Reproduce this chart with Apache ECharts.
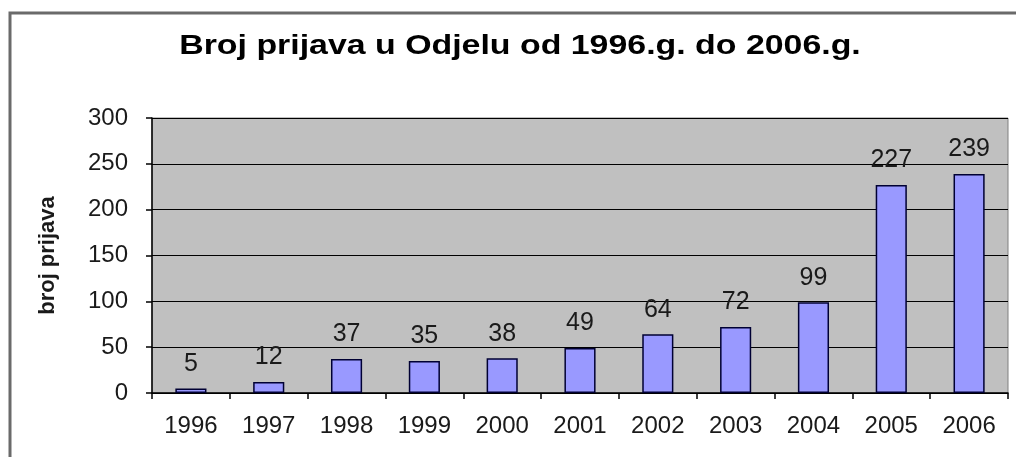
<!DOCTYPE html>
<html>
<head>
<meta charset="utf-8">
<script src="https://cdn.jsdelivr.net/npm/echarts@6/dist/echarts.min.js"></script>
<style>
html,body{margin:0;padding:0;background:#fff;}
#c{width:1016px;height:457px;}
</style>
</head>
<body>
<div id="c"></div>
<script>
const titleText = 'Broj prijava u Odjelu od 1996.g. do 2006.g.';
const yAxisName = 'broj prijava';
const categories = ['1996','1997','1998','1999','2000','2001','2002','2003','2004','2005','2006'];
const values = [5, 12, 37, 35, 38, 49, 64, 72, 99, 227, 239];
const yMin = 0, yMax = 300, yInterval = 50;

const FONT = '"Liberation Sans", Arial, sans-serif';
const chart = echarts.init(document.getElementById('c'), null, {renderer: 'canvas'});
chart.setOption({
  animation: false,
  backgroundColor: '#fff',
  graphic: [{
    type: 'rect',
    shape: {x: 10, y: 13, width: 1100, height: 600},
    style: {fill: null, stroke: '#6a6a6a', lineWidth: 3},
    silent: true, z: -1
  }, {
    type: 'text',
    x: 520, y: 46,
    scaleX: 1.21,
    style: {
      text: titleText,
      fontFamily: FONT, fontSize: 28, fontWeight: 'bold', fill: '#000',
      textAlign: 'center', textVerticalAlign: 'middle'
    },
    silent: true
  }],
  grid: {
    left: 152, top: 118, right: 8, bottom: 64,
    show: true, backgroundColor: '#C0C0C0', borderColor: '#808080', borderWidth: 1
  },
  xAxis: {
    type: 'category',
    data: categories,
    axisLine: {lineStyle: {color: '#000', width: 1.5}},
    axisTick: {show: true, length: 6, lineStyle: {color: '#000', width: 1.5}},
    axisLabel: {fontFamily: FONT, fontSize: 24, color: '#1a1a1a', margin: 21}
  },
  yAxis: {
    type: 'value',
    min: yMin, max: yMax, interval: yInterval,
    name: yAxisName,
    nameLocation: 'middle',
    nameGap: 93,
    nameRotate: 90,
    nameTextStyle: {fontFamily: FONT, fontSize: 22, fontWeight: 'bold', color: '#1a1a1a'},
    axisLine: {show: true, lineStyle: {color: '#000', width: 1.5}},
    axisTick: {show: true, length: 6, lineStyle: {color: '#000', width: 1.5}},
    axisLabel: {fontFamily: FONT, fontSize: 24, color: '#1a1a1a', margin: 24},
    splitLine: {show: true, lineStyle: {color: '#000', width: 1}}
  },
  series: [{
    type: 'bar',
    data: values,
    barWidth: '40%',
    itemStyle: {color: '#9999FF', borderColor: '#000033', borderWidth: 1.5},
    label: {
      show: true, position: 'top', distance: 12,
      fontFamily: FONT, fontSize: 25, color: '#1a1a1a'
    }
  }]
});
</script>
</body>
</html>
